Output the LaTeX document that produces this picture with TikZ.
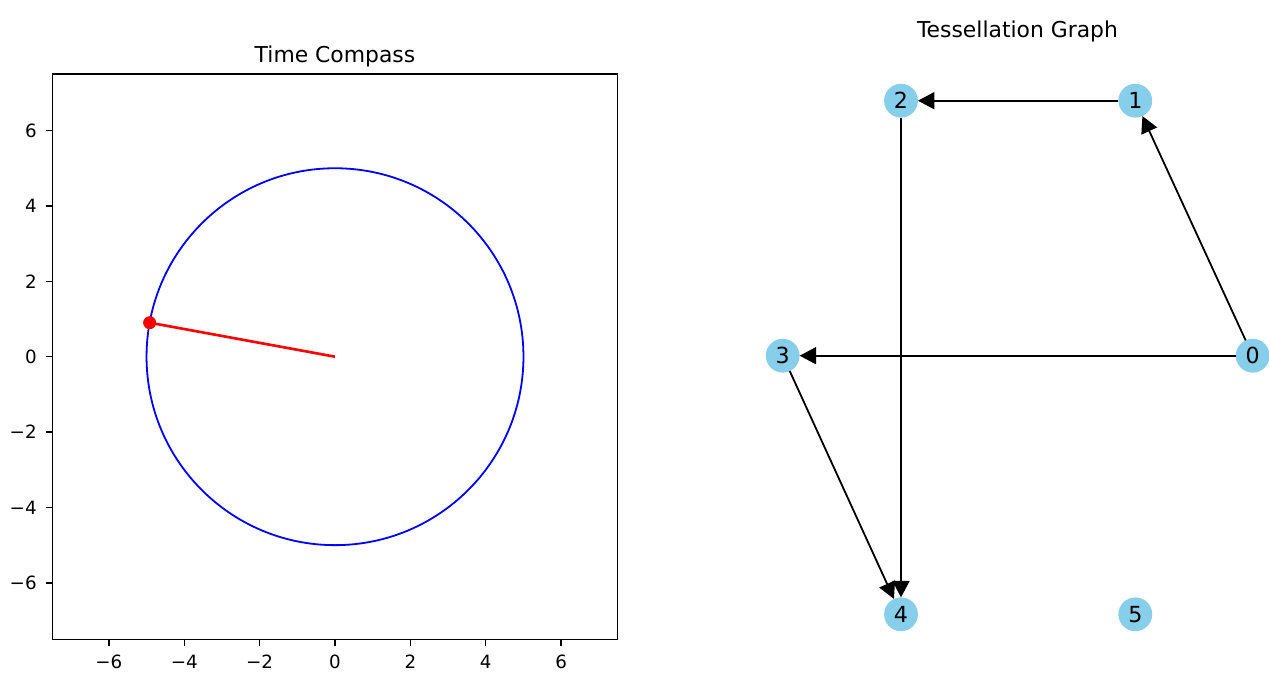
\documentclass[tikz,border=0pt]{standalone}
\usepackage{fontspec}
\setmainfont{DejaVu Sans}
\usetikzlibrary{arrows.meta}
\definecolor{vtxc}{HTML}{87CEEB}
\definecolor{ringc}{HTML}{0000FF}
\definecolor{handc}{HTML}{FF0000}
\tikzset{
  >={Triangle[length=0.165in,width=0.17in]},
  vtx/.style={circle,fill=vtxc,minimum size=0.338in,inner sep=0pt,outer sep=0pt,font=\fontsize{16}{18}\selectfont},
  edge/.style={->,line width=1.3pt,draw=black},
  ttl/.style={font=\fontsize{15.8}{18}\selectfont,anchor=base,inner sep=0pt},
  xtl/.style={font=\fontsize{13.2}{15}\selectfont,anchor=north,inner sep=0pt},
  ytl/.style={font=\fontsize{13.2}{15}\selectfont,anchor=east,inner sep=0pt},
  spine/.style={line width=1.05pt,draw=black},
  tk/.style={line width=1.05pt,draw=black},
}

\begin{document}
\begin{tikzpicture}[x=0.01in,y=-0.01in]
  \useasboundingbox (0,0) rectangle (1269,675);
  % left: compass
  \node[ttl] (tcomp) at (335,63) {Time Compass};
  \begin{scope}[shift={(335,356.7)},x=0.3767in,y=0.3767in]
    \draw[spine] (-7.5,-7.5) rectangle (7.5,7.5);
    \foreach \v/\t in {-6/−6,-4/−4,-2/−2,0/0,2/2,4/4,6/6} {
      \draw[tk] (\v,-7.5) -- ++(0,-0.064in) node[xtl,yshift=-0.085in] {\t};
      \draw[tk] (-7.5,\v) -- ++(-0.064in,0) node[ytl,xshift=-0.085in] {\t};
    }
    \draw[ringc,line width=1.3pt] (0,0) circle (5);
    \coordinate (hub) at (0,0);
    \coordinate (tip) at (169.6:5);
    \draw[handc,line width=1.9pt] (hub) -- (tip);
    \fill[handc] (tip) circle (0.065in);
  \end{scope}
  % right: graph
  \node[ttl] (tgraph) at (1017.5,38) {Tessellation Graph};
  \node[vtx] (n0) at (1252.7,355.7) {0};
  \node[vtx] (n1) at (1135.3,100.7) {1};
  \node[vtx] (n2) at (901,100.7) {2};
  \node[vtx] (n3) at (782.7,355.7) {3};
  \node[vtx] (n4) at (901,614.3) {4};
  \node[vtx] (n5) at (1135.3,614.3) {5};
  \draw[edge] (n0) -- (n1);
  \draw[edge] (n1) -- (n2);
  \draw[edge] (n0) -- (n3);
  \draw[edge] (n3) -- (n4);
  \draw[edge] (n2) -- (n4);
\end{tikzpicture}
\end{document}
